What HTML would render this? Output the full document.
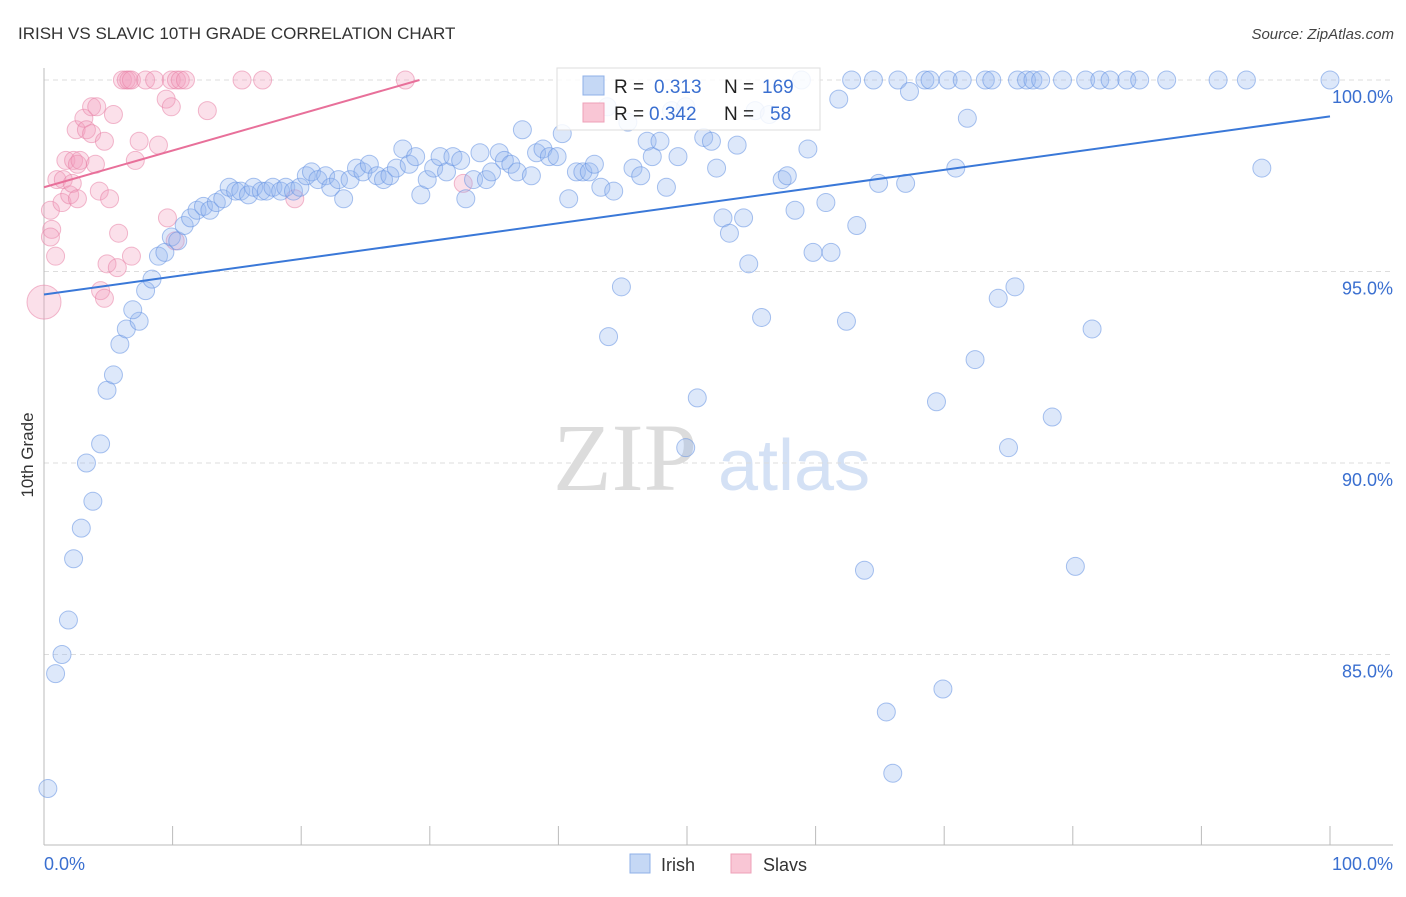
<!DOCTYPE html>
<html><head><meta charset="utf-8"><style>
body{margin:0;background:#fff;font-family:"Liberation Sans",sans-serif}
</style></head><body>
<svg id="chart" width="1406" height="892" viewBox="0 0 1406 892" xmlns="http://www.w3.org/2000/svg" font-family="Liberation Sans, sans-serif">
<text x="18" y="39" font-size="17" fill="#333">IRISH VS SLAVIC 10TH GRADE CORRELATION CHART</text>
<text x="1394" y="39" font-size="15" fill="#444" text-anchor="end" font-style="italic">Source: ZipAtlas.com</text>
<g>
<text x="553" y="490" font-size="96" fill="#dcdcdc" style="font-family:'Liberation Serif',serif">ZIP</text>
<text x="718" y="490" font-size="72" fill="#d4e1f5">atlas</text>
</g>
<g id="grid"></g>
<g id="axes"></g>
<g id="pts"></g>
<g id="lines"></g>
<text transform="translate(33,455) rotate(-90)" font-size="17" fill="#333" text-anchor="middle">10th Grade</text>
<g>
<rect x="557" y="68" width="263" height="62" fill="#fff" fill-opacity="0.85" stroke="#ddd"/>
<rect x="583" y="76" width="21" height="19" fill="#c5d8f5" stroke="#8fb0e8"/>
<rect x="583" y="103" width="21" height="19" fill="#f9c6d5" stroke="#eea0b8"/>
<text x="614" y="93" font-size="19" fill="#222">R =</text>
<text x="654" y="93" font-size="19" fill="#3a6fd0">0.313</text>
<text x="724" y="93" font-size="19" fill="#222">N =</text>
<text x="762" y="93" font-size="19" fill="#3a6fd0">169</text>
<text x="614" y="120" font-size="19" fill="#222">R =</text>
<text x="649" y="120" font-size="19" fill="#3a6fd0">0.342</text>
<text x="724" y="120" font-size="19" fill="#222">N =</text>
<text x="770" y="120" font-size="19" fill="#3a6fd0">58</text>
</g>
<g>
<rect x="630" y="854" width="20" height="19" fill="#c5d8f5" stroke="#8fb0e8"/>
<text x="661" y="871" font-size="18" fill="#333">Irish</text>
<rect x="731" y="854" width="20" height="19" fill="#f9c6d5" stroke="#eea0b8"/>
<text x="763" y="871" font-size="18" fill="#333">Slavs</text>
</g>
</svg>
<script>
const yTicks=[100,95,90,85];
const yTickLabels=["100.0%","95.0%","90.0%","85.0%"];
const xTickLabels=["0.0%","100.0%"];
const irishX=[0.3,0.9,1.4,1.9,2.3,2.9,3.8,3.3,4.4,4.9,5.4,5.9,6.4,7.4,6.9,7.9,8.4,8.9,9.4,9.9,10.4,10.9,11.4,11.9,12.4,12.9,13.4,13.9,14.4,14.9,15.3,15.9,16.3,16.9,17.3,17.8,18.4,18.8,19.4,19.9,20.4,20.8,21.3,21.9,22.3,22.9,23.3,23.8,24.3,24.8,25.3,25.9,26.4,26.9,27.4,27.9,28.4,28.9,29.3,29.8,30.3,30.8,31.3,31.8,32.4,32.8,33.4,33.9,34.4,34.8,35.4,35.8,36.3,36.8,37.2,37.9,38.3,38.8,39.3,39.9,40.3,40.8,41.4,41.9,42.4,42.8,43.3,43.8,44.3,44.9,43.9,45.4,45.8,46.4,46.9,47.3,47.9,48.4,48.8,49.3,49.9,49.9,50.8,51.3,51.9,52.3,52.8,53.3,53.9,54.4,54.8,55.3,55.8,56.4,57.4,57.8,58.4,58.9,59.4,59.8,60.8,61.2,61.8,62.4,62.8,63.2,63.8,64.5,64.9,65.5,66.0,66.4,67.0,67.3,68.5,68.9,69.4,69.9,70.3,70.9,71.4,71.8,72.4,73.2,73.7,74.2,75.0,75.5,75.7,76.4,76.9,77.5,78.4,79.2,80.2,81.0,81.5,82.1,82.9,84.2,85.2,87.3,91.3,93.5,94.7,100];
const irishY=[81.5,84.5,85.0,85.9,87.5,88.3,89.0,90.0,90.5,91.9,92.3,93.1,93.5,93.7,94.0,94.5,94.8,95.4,95.5,95.9,95.8,96.2,96.4,96.6,96.7,96.6,96.8,96.9,97.2,97.1,97.1,97.0,97.2,97.1,97.1,97.2,97.1,97.2,97.1,97.2,97.5,97.6,97.4,97.5,97.2,97.4,96.9,97.4,97.7,97.6,97.8,97.5,97.4,97.5,97.7,98.2,97.8,98.0,97.0,97.4,97.7,98.0,97.6,98.0,97.9,96.9,97.4,98.1,97.4,97.6,98.1,97.9,97.8,97.6,98.7,97.5,98.1,98.2,98.0,98.0,98.6,96.9,97.6,97.6,97.6,97.8,97.2,99.3,97.1,94.6,93.3,98.9,97.7,97.5,98.4,98.0,98.4,97.2,99.2,98.0,99.3,90.4,91.7,98.5,98.4,97.7,96.4,96.0,98.3,96.4,95.2,99.2,93.8,99.1,97.4,97.5,96.6,100,98.2,95.5,96.8,95.5,99.5,93.7,100,96.2,87.2,100,97.3,83.5,81.9,100,97.3,99.7,100,100,91.6,84.1,100,97.7,100,99.0,92.7,100,100,94.3,90.4,94.6,100,100,100,100,91.2,100,87.3,100,93.5,100,100,100,100,100,100,100,97.7,100];
const slavsX=[0,0.5,0.6,0.5,0.9,1.0,1.4,1.5,1.7,2.0,2.2,2.3,2.6,2.6,2.8,2.5,3.1,3.3,3.7,3.7,4.0,4.1,4.3,4.4,4.7,4.7,4.9,5.1,5.4,5.7,5.8,6.1,6.4,6.6,6.8,6.8,7.1,7.4,7.9,8.6,8.9,9.5,9.6,9.9,9.9,10.2,10.3,10.6,11.0,12.7,15.4,17.0,19.5,28.1,32.6];
const slavsY=[94.2,96.6,96.1,95.9,95.4,97.4,96.8,97.4,97.9,97.0,97.3,97.9,96.9,97.8,97.9,98.7,99.0,98.7,99.3,98.6,97.8,99.3,97.1,94.5,98.4,94.3,95.2,96.9,99.1,95.1,96.0,100,100,100,100,95.4,97.9,98.4,100,100,98.3,99.5,96.4,99.3,100,95.8,100,100,100,99.2,100,100,96.9,100,97.3];
const irishTrend=[94.4,99.05];
const slavsTrend=[97.2,100];
const slavsTrendEnd=29.2;
const NS="http://www.w3.org/2000/svg";
const X0=44,X1=1330,Ytop=80,PX5=191.5;
const sx=v=>X0+(X1-X0)*v/100;
const sy=v=>Ytop+(100-v)*PX5/5;
function mk(t,a,p){const e=document.createElementNS(NS,t);for(const k in a)e.setAttribute(k,a[k]);p.appendChild(e);return e;}
const grid=document.getElementById('grid'),axes=document.getElementById('axes');
yTicks.forEach((t,i)=>{
 const l=mk('line',{x1:X0,x2:1393,y1:sy(t),y2:sy(t),stroke:'#ddd','stroke-dasharray':'5,4'},grid);
 
 
 const tx=mk('text',{x:1393,y:sy(t)+23,'font-size':18,fill:'#3a6fd0','text-anchor':'end'},axes);
 tx.textContent=yTickLabels[i];
 
 
});
let a=mk('line',{x1:X0,x2:X0,y1:68,y2:845,stroke:'#bbb'},axes);
a=mk('line',{x1:X0,x2:1393,y1:845,y2:845,stroke:'#bbb'},axes);
for(let i=1;i<=10;i++){const l=mk('line',{x1:sx(i*10),x2:sx(i*10),y1:826,y2:845,stroke:'#bbb'},axes);
 
 }
let t0=mk('text',{x:44,y:870,'font-size':18,fill:'#3a6fd0'},axes);t0.textContent=xTickLabels[0];


let t1=mk('text',{x:1393,y:870,'font-size':18,fill:'#3a6fd0','text-anchor':'end'},axes);t1.textContent=xTickLabels[1];


const pts=document.getElementById('pts');
slavsX.forEach((x,i)=>{const c=mk('circle',{cx:sx(x),cy:sy(slavsY[i]),r:i===0?17:9,fill:'rgba(244,160,190,0.32)',stroke:'rgba(232,130,165,0.55)'},pts);
 
 });
irishX.forEach((x,i)=>{const c=mk('circle',{cx:sx(x),cy:sy(irishY[i]),r:9,fill:'rgba(150,185,240,0.32)',stroke:'rgba(100,145,225,0.55)'},pts);
 
 });
const lines=document.getElementById('lines');
let l1=mk('line',{x1:sx(0),y1:sy(irishTrend[0]),x2:sx(100),y2:sy(irishTrend[1]),stroke:'#3a78d8','stroke-width':2},lines);


let l2=mk('line',{x1:sx(0),y1:sy(slavsTrend[0]),x2:sx(slavsTrendEnd),y2:sy(slavsTrend[1]),stroke:'#e8709a','stroke-width':2},lines);


</script>
</body></html>
